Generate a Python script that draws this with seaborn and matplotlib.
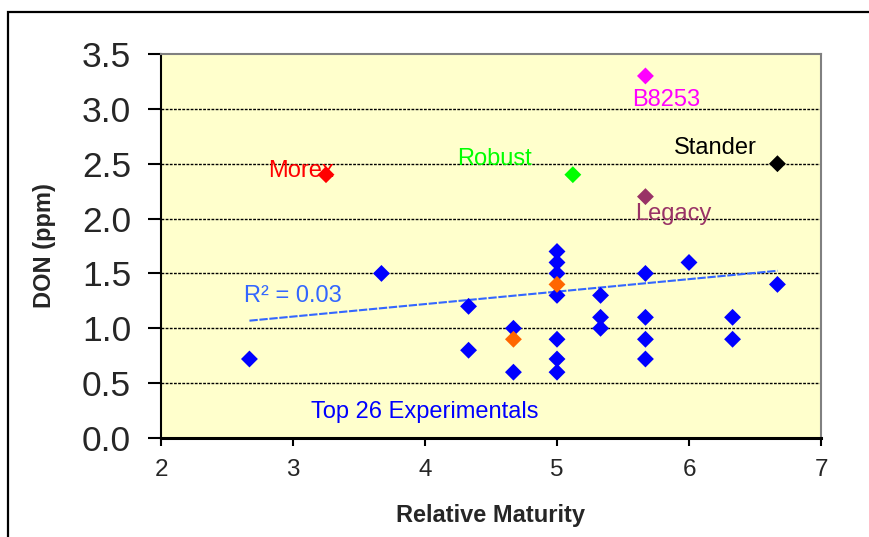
import numpy as np
import pandas as pd
import matplotlib
matplotlib.use("Agg")
import matplotlib.pyplot as plt
from matplotlib.patches import Rectangle
import seaborn as sns

# ---- data ----
exp_x = [2.67, 3.67, 4.33, 4.33, 4.67, 4.67,
         5.0, 5.0, 5.0, 5.0, 5.0, 5.0, 5.0,
         5.33, 5.33, 5.33, 5.67, 5.67, 5.67, 5.67,
         6.0, 6.33, 6.33, 6.67]
exp_y = [0.72, 1.5, 1.2, 0.8, 1.0, 0.6,
         1.7, 1.6, 1.5, 1.3, 0.9, 0.72, 0.6,
         1.3, 1.1, 1.0, 1.5, 1.1, 0.9, 0.72,
         1.6, 1.1, 0.9, 1.4]
orange_x = [4.67, 5.0]
orange_y = [0.9, 1.4]
check_names = ["Morex", "Robust", "B8253", "Legacy", "Stander"]
check_x = [3.25, 5.12, 5.67, 5.67, 6.67]
check_y = [2.4, 2.4, 3.3, 2.2, 2.5]
check_colors = ["#FF0000", "#00FF00", "#FF00FF", "#993366", "#000000"]
x_ticks = [2, 3, 4, 5, 6, 7]
y_ticks = [0.0, 0.5, 1.0, 1.5, 2.0, 2.5, 3.0, 3.5]

df = pd.concat([
    pd.DataFrame({"x": exp_x, "y": exp_y, "group": "Experimental"}),
    pd.DataFrame({"x": orange_x, "y": orange_y, "group": "Orange"}),
    pd.DataFrame({"x": check_x, "y": check_y, "group": check_names}),
], ignore_index=True)
palette = {"Experimental": "#0000FF", "Orange": "#FF6600"}
palette.update(dict(zip(check_names, check_colors)))

sns.set_style("white")
plt.rcParams["font.family"] = ["Liberation Sans", "DejaVu Sans"]

fig = plt.figure(figsize=(8.69, 5.37), dpi=100)
ax = fig.add_axes([161/869, 1-438/537, 660/869, 384/537])
ax.set_facecolor("#FFFFCC")

# grid lines
for yv in y_ticks[1:-1]:
    ax.axhline(yv, color="black", lw=1.0, ls=(0, (2, 1)), zorder=1)

sns.scatterplot(data=df, x="x", y="y", hue="group", palette=palette,
                marker="D", s=74, linewidth=0, legend=False, ax=ax, zorder=3)

# trend line fitted to all points
coef = np.polyfit(df["x"], df["y"], 1)
xx = np.array([df["x"].min(), df["x"].max()])
ax.plot(xx, np.polyval(coef, xx), color="#3366FF", lw=1.5, ls=(0, (4, 0.8)), zorder=2)
r2 = np.corrcoef(df["x"], df["y"])[0, 1] ** 2

ax.set_xlim(2, 7)
ax.set_ylim(0, 3.5)
ax.set_xticks(x_ticks)
ax.set_xticklabels([str(v) for v in x_ticks])
ax.set_yticks(y_ticks)
ax.set_yticklabels([f"{v:.1f}" for v in y_ticks])
ax.tick_params(axis="y", direction="out", length=9.5, width=1.5, pad=12,
               labelsize=25.5, left=True, color="black")
ax.tick_params(axis="x", direction="out", length=6, width=1.5, pad=9,
               labelsize=17.5, bottom=True, color="black")

for side in ["top", "right"]:
    ax.spines[side].set_color("#808080")
    ax.spines[side].set_linewidth(1.5)
ax.spines["left"].set_color("black")
ax.spines["left"].set_linewidth(1.5)
ax.spines["bottom"].set_color("black")
ax.spines["bottom"].set_linewidth(2.2)

ax.set_xlabel("Relative Maturity", fontsize=17, fontweight="bold", labelpad=17)
ax.set_ylabel("DON (ppm)", fontsize=17, fontweight="bold", labelpad=19)

# annotations
fs = 17
ax.text(3.06, 2.43, "Morex", color="#FF0000", fontsize=fs, ha="center", va="center", zorder=2)
ax.text(4.53, 2.54, "Robust", color="#00FF00", fontsize=fs, ha="center", va="center")
ax.text(5.83, 3.08, "B8253", color="#FF00FF", fontsize=fs, ha="center", va="center")
ax.text(6.20, 2.64, "Stander", color="#000000", fontsize=fs, ha="center", va="center")
ax.text(5.88, 2.04, "Legacy", color="#993366", fontsize=fs, ha="center", va="center")
ax.text(3.00, 1.29, f"R\u00b2 = {r2:.2f}", color="#3366FF", fontsize=fs, ha="center", va="center")
ax.text(4.00, 0.24, "Top 26 Experimentals", color="#0000FF", fontsize=fs, ha="center", va="center")

# outer chart border (extends past the right and bottom edges)
fig.patches.append(Rectangle((8/869, -0.2), 1.5, (537-12)/537 + 0.2,
                             transform=fig.transFigure, fill=False,
                             edgecolor="black", lw=1.6, clip_on=False))

fig.savefig("out.png", dpi=100)
